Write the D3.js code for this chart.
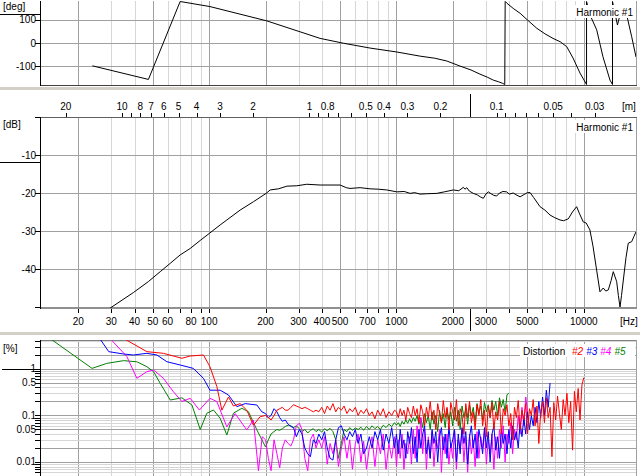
<!DOCTYPE html>
<html><head><meta charset="utf-8">
<script src="https://cdn.jsdelivr.net/npm/d3@7"></script>
<style>
body{margin:0;background:#fff;}
svg{display:block;}
text{font-family:"Liberation Sans",Arial,sans-serif;font-size:10px;fill:#000;}
</style>
</head><body><svg id="c" width="640" height="476"></svg>
<script>
// ---------------- DATA ----------------
const phaseFreq = [23.8,47.4,70,101,203,391,521,723,1004,1337,1600,1855,2183,2500,2791,3050,3289,3500,3690,3785,3805,3880,4200,4570,5000,5610,6200,6850,7500,8110,8760,9540,10344,10344,10790,11720,12660,13800,14234,14234,15130,15410,15800,16190,16800,18020,19010];
const phaseDeg  = [-99,-158,180,158,96,20,-1,-22,-39,-57,-66,-78,-100,-117,-135,-148,-161,-168,-175,-180,180,173,150,129,100,64,40,20,5,-16,-65,-130,-180,180,122,57,-60,-161,-180,180,78,104,135,160,135,27,-61];

const magFreq = [29.6,39.4,47.4,54.8,62,70,79.2,89.5,100.4,114.5,124.3,146.3,172.3,201.4,211.6,234.6,260,293.8,332,391,500,540,565,639,723,800,888,1004,1100,1182,1250,1337,1450,1641,1800,2013,2150,2277,2320,2373,2450,2573,2700,2800,2909,3000,3093,3200,3300,3426,3550,3700,3878,4000,4200,4400,4572,4800,5000,5167,5400,5841,6200,6603,7000,7464,7800,8265,8700,9156,9500,9935,10300,10780,11200,11710,12200,12700,13100,13520,14000,14370,14980,15300,15610,15900,16260,16800,17280,18020,18500,19010];
const magDb   = [-50.3,-46.2,-43.3,-40.7,-38.5,-36.3,-34.6,-32.5,-30.6,-28.4,-27.1,-24.5,-22.3,-20.1,-19.2,-18.9,-18.2,-18.1,-17.7,-17.9,-17.9,-18.6,-18.8,-18.6,-18.9,-19.0,-19.2,-19.7,-19.6,-20.1,-19.9,-20.3,-20.2,-20.1,-19.7,-19.2,-19.4,-18.5,-19.0,-18.6,-19.5,-20.1,-20.5,-21.0,-21.4,-20.3,-19.7,-20.2,-20.6,-20.8,-20.0,-19.6,-19.7,-20.3,-20.0,-20.6,-21.0,-20.4,-19.9,-19.9,-21.2,-23.6,-24.5,-25.8,-26.5,-27.1,-27.3,-26.8,-25.0,-23.6,-25.5,-27.6,-27.9,-29.7,-34,-40.3,-46,-45,-45.8,-45.5,-43,-40.7,-43.3,-47,-50,-47,-42.9,-37,-33.2,-32.8,-31.5,-30.2];

// distortion, low-frequency part as [Hz, %] pairs
const h2Low = [[33.5,5],[46.5,2.36],[57,2.17],[71.5,1.7],[79.2,1.9],[93.2,2.0],[101,1.12],[109.9,0.42],[116.9,0.13],[126.8,0.25],[134.8,0.16],[146.3,0.18],[158.8,0.13],[172.3,0.062],[187,0.094]];
const h3Low = [[25.6,5],[29.1,2.36],[34.9,2.1],[39.4,2.0],[46.5,2.17],[52.6,2.0],[59.5,1.43],[70,1.22],[82.3,1.03],[93.2,0.63],[101,0.35],[114.5,0.35],[126.8,0.276],[140.6,0.155],[155.7,0.18],[179.8,0.168],[191,0.12]];
const h4Low = [[28.9,5],[36.4,1.84],[41.1,0.63],[46.5,0.875],[50.5,0.95],[57,0.63],[64.4,0.325],[71.5,0.2],[79.2,0.234],[88.7,0.131],[101,0.234],[109.9,0.2],[124.3,0.057],[137.6,0.11],[158.8,0.049],[172.3,0.08],[183.3,0.0065],[192,0.035]];
const h5Low = [[13.3,5.4],[23.7,1.03],[28.4,1.32],[34.9,1.51],[41.1,1.43],[46.5,1.12],[50.5,0.875],[54.8,0.49],[62,0.215],[71.5,0.24],[80.9,0.168],[89.6,0.05],[97.2,0.112],[105.5,0.131],[114.5,0.087],[124.3,0.038],[134.8,0.112],[149.4,0.143],[162.2,0.12],[179.8,0.049]];

// distortion, high-frequency part on a shared frequency grid (200 Hz .. 10 kHz)
const distFreq = [200,207,214,222,230,238,246,255,264,273,
282,292,303,313,324,336,347,360,372,385,
399,413,427,442,458,474,490,508,525,544,
563,582,603,624,646,668,692,716,741,767,
794,821,850,880,911,943,976,
1000,1023,1047,1072,1096,1122,1148,1175,1202,1230,
1259,1288,1318,1349,1380,1413,1445,1479,1514,1549,
1585,1622,1660,1698,1738,1778,1820,1862,1905,1950,
1995,2042,2089,2138,2188,2239,2291,2344,2399,2455,
2512,2570,2630,2692,2754,2818,2884,2951,3020,3090,
3162,3236,3311,3388,3467,3548,3631,3715,3802,3890,
3981,4074,4169,4266,4365,4467,4571,4677,4786,4898,
5012,5129,5248,5370,5495,5623,5754,5888,6026,6166,
6310,6457,6607,6761,6918,7079,7244,7413,7586,7762,
7943,8128,8318,8511,8710,8913,9120,9333,9550,9772,
10000];
const h2Vals = [0.1,0.09,0.08,0.1,0.13,0.14,0.15,0.13,0.13,0.15,
0.17,0.16,0.15,0.14,0.15,0.14,0.13,0.12,0.13,0.12,
0.15,0.11,0.16,0.13,0.18,0.12,0.15,0.13,0.16,0.11,
0.14,0.12,0.15,0.1,0.13,0.11,0.14,0.1,0.12,0.085,
0.13,0.1,0.14,0.09,0.12,0.1,0.13,
0.12,0.09,0.14,0.1,0.13,0.08,0.15,0.11,0.09,0.16,
0.1,0.14,0.07,0.17,0.12,0.06,0.15,0.09,0.2,0.08,
0.13,0.05,0.18,0.11,0.07,0.21,0.09,0.15,0.05,0.19,
0.12,0.08,0.22,0.06,0.14,0.1,0.04,0.18,0.09,0.2,
0.07,0.12,0.05,0.17,0.1,0.22,0.06,0.13,0.035,0.16,
0.09,0.19,0.05,0.12,0.08,0.2,0.04,0.14,0.1,0.17,
0.06,0.11,0.03,0.15,0.09,0.21,0.05,0.13,0.08,0.18,
0.04,0.14,0.1,0.22,0.06,0.16,0.025,0.12,0.2,0.07,
0.24,0.09,0.15,0.013,0.19,0.08,0.26,0.11,0.05,0.22,
0.1,0.3,0.07,0.2,0.018,0.33,0.12,0.38,0.08,0.45,
0.65];
const h3Vals = [0.11,0.09,0.1,0.14,0.12,0.09,0.075,0.08,0.065,0.058,
0.055,0.035,0.05,0.04,0.02,0.015,0.013,0.03,0.025,0.04,
0.03,0.045,0.02,0.012,0.011,0.03,0.055,0.06,0.04,0.03,
0.045,0.035,0.05,0.025,0.04,0.015,0.02,0.035,0.02,0.045,
0.03,0.05,0.018,0.04,0.025,0.055,0.02,
0.04,0.015,0.05,0.02,0.03,0.012,0.045,0.025,0.055,0.015,
0.035,0.01,0.05,0.02,0.04,0.06,0.015,0.03,0.012,0.05,
0.025,0.045,0.01,0.035,0.055,0.018,0.04,0.012,0.06,0.02,
0.03,0.05,0.01,0.04,0.015,0.055,0.025,0.045,0.009,0.035,
0.06,0.02,0.04,0.012,0.05,0.03,0.015,0.055,0.02,0.045,
0.01,0.04,0.06,0.018,0.035,0.012,0.05,0.025,0.04,0.015,
0.05,0.02,0.06,0.03,0.045,0.02,0.07,0.035,0.09,0.04,
0.12,0.05,0.1,0.06,0.15,0.07,0.2,0.09,0.25,0.1,
0.35,0.15,0.5];
const h4Vals = [0.03,0.012,0.0065,0.03,0.015,0.0075,0.02,0.03,0.025,0.022,
0.03,0.06,0.068,0.05,0.012,0.0065,0.03,0.04,0.02,0.03,
0.02,0.035,0.009,0.025,0.015,0.03,0.008,0.02,0.035,0.012,
0.03,0.007,0.025,0.04,0.01,0.028,0.007,0.02,0.035,0.008,
0.03,0.015,0.04,0.007,0.025,0.012,0.035,
0.008,0.03,0.012,0.04,0.007,0.025,0.015,0.035,0.009,0.05,
0.012,0.06,0.02,0.09,0.015,0.05,0.007,0.035,0.012,0.045,
0.008,0.03,0.02,0.05,0.006,0.035,0.015,0.04,0.009,0.025,
0.012,0.045,0.007,0.03,0.02,0.05,0.01,0.035,0.006,0.04,
0.015,0.03,0.008,0.045,0.012,0.035,0.02,0.05,0.009,0.03,
0.015,0.04,0.007,0.035,0.012,0.05,0.02,0.06,0.01,0.04,
0.025,0.07,0.015,0.05,0.03,0.1,0.04,0.15,0.06,0.25,
0.12];
const h5Vals = [0.021,0.03,0.04,0.045,0.05,0.048,0.052,0.058,0.062,0.06,
0.055,0.06,0.052,0.045,0.05,0.042,0.048,0.052,0.045,0.05,
0.044,0.052,0.047,0.053,0.045,0.03,0.012,0.025,0.05,0.045,
0.055,0.048,0.054,0.05,0.056,0.048,0.058,0.05,0.06,0.052,
0.058,0.05,0.062,0.055,0.065,0.058,0.07,
0.062,0.07,0.058,0.075,0.065,0.08,0.068,0.085,0.07,0.09,
0.075,0.1,0.065,0.09,0.055,0.11,0.07,0.1,0.05,0.12,
0.065,0.1,0.045,0.13,0.07,0.11,0.055,0.14,0.08,0.12,
0.06,0.15,0.075,0.13,0.05,0.16,0.09,0.14,0.065,0.17,
0.1,0.15,0.07,0.18,0.11,0.16,0.08,0.19,0.12,0.17,
0.09,0.21,0.13,0.2,0.1,0.24,0.15,0.22,0.12,0.28,
0.3];

const seriesNames = ["#2","#3","#4","#5"];
const seriesColors = ["#ff0000","#0000ff","#ff00ff","#008000"];

// axis ticks / labels
const freqTicks = [20,30,40,50,60,70,80,90,100,200,300,400,500,600,700,800,900,1000,2000,3000,4000,5000,6000,7000,8000,9000,10000];
const freqLabels = [20,30,40,50,60,80,100,200,300,400,500,700,1000,2000,3000,5000,10000];
const wlTicks = [20,10,9,8,7,6,5,4,3,2,1,0.9,0.8,0.7,0.6,0.5,0.4,0.3,0.2,0.1,0.09,0.08,0.07,0.06,0.05,0.04,0.03];
const wlLabels = [20,10,8,7,6,5,4,3,2,1,0.8,0.5,0.4,0.3,0.2,0.1,0.05,0.03];
const phaseTicks = [100,0,-100];
const magTicks = [-10,-20,-30,-40];
const distGrid = [0.005,0.006,0.007,0.008,0.009,0.01,0.02,0.03,0.04,0.05,0.06,0.07,0.08,0.09,0.1,0.2,0.3,0.4,0.5,0.6,0.7,0.8,0.9,1,2,3,4];
const distLabels = [1,0.5,0.1,0.05,0.01];
const soundSpeed = 343;
const cursorFreq = 2470;
const refDeg = 126, refDb = -11.8, refPct = 1;

// ---------------- DRAW ----------------
const svg = d3.select("#c");
const L = 40, R = 636;
const x = d3.scaleLog().domain([12.5, 19000]).range([L, R]);
const yP = d3.scaleLinear().domain([-180, 180]).range([84.5, 1.5]);
const yM = d3.scaleLinear().domain([-50, 0]).range([307, 117]);
const yD = d3.scaleLog().domain([0.005, 4.2]).range([476, 340]);
const dark = "#a0a0a0", light = "#d6d6d6";
const mant = v => Math.round(v / Math.pow(10, Math.floor(Math.log10(v) + 1e-9)));
const isMajor = v => [1,2,5].includes(mant(v));

svg.append("rect").attr("width",640).attr("height",476).attr("fill","#fff");
svg.append("rect").attr("x",0).attr("y",87).attr("width",640).attr("height",3).attr("fill","#d4d0c8");
svg.append("rect").attr("x",0).attr("y",332).attr("width",640).attr("height",3).attr("fill","#d4d0c8");

const defs = svg.append("defs");
function clip(id, y0, y1){ defs.append("clipPath").attr("id",id).append("rect").attr("x",L).attr("y",y0).attr("width",R-L).attr("height",y1-y0); }
clip("cp",1,85); clip("cm",117,308); clip("cd",340,476);

function vgrid(g, y0, y1){
  g.selectAll(null).data(freqTicks).join("line")
    .attr("x1",d=>Math.round(x(d))+0.5).attr("x2",d=>Math.round(x(d))+0.5)
    .attr("y1",y0).attr("y2",y1)
    .attr("stroke",d=>isMajor(d)?dark:light).attr("stroke-width",1);
}
function hgrid(g, vals, ys, colorFn){
  g.selectAll(null).data(vals).join("line")
    .attr("x1",L).attr("x2",R)
    .attr("y1",d=>Math.round(ys(d))+0.5).attr("y2",d=>Math.round(ys(d))+0.5)
    .attr("stroke",colorFn).attr("stroke-width",1);
}
function leftTicks(g, vals, ys){
  g.selectAll(null).data(vals).join("line")
    .attr("x1",35).attr("x2",L).attr("y1",d=>Math.round(ys(d))+0.5).attr("y2",d=>Math.round(ys(d))+0.5)
    .attr("stroke","#000");
}
function leftLabels(g, vals, ys){
  g.selectAll(null).data(vals).join("text")
    .attr("x",36).attr("y",d=>ys(d)).attr("dy","0.35em").attr("text-anchor","end").text(d=>d);
}

// ---- Phase panel ----
const gp = svg.append("g");
vgrid(gp, 1, 85);
hgrid(gp, phaseTicks, yP, ()=>dark);
gp.append("line").attr("x1",R+0.5).attr("x2",R+0.5).attr("y1",1).attr("y2",85).attr("stroke",dark);
gp.append("line").attr("x1",L).attr("x2",R+1).attr("y1",85.5).attr("y2",85.5).attr("stroke","#404040");
gp.append("line").attr("x1",L+0.5).attr("x2",L+0.5).attr("y1",1).attr("y2",86).attr("stroke","#000");
leftTicks(gp, phaseTicks, yP);
leftLabels(gp, phaseTicks, yP);
gp.append("line").attr("x1",0).attr("x2",L).attr("y1",Math.round(yP(refDeg))+0.5).attr("y2",Math.round(yP(refDeg))+0.5).attr("stroke","#000");
gp.append("text").attr("x",3).attr("y",10).text("[deg]");
const phaseData = phaseFreq.map((f,i)=>[f,phaseDeg[i]]);
gp.append("path").datum(phaseData).attr("clip-path","url(#cp)")
  .attr("d", d3.line().x(d=>x(d[0])).y(d=>yP(d[1])))
  .attr("fill","none").attr("stroke","#000").attr("stroke-width",1);

// ---- Magnitude panel ----
const gm = svg.append("g");
vgrid(gm, 117, 308);
hgrid(gm, magTicks, yM, ()=>dark);
gm.append("line").attr("x1",R+0.5).attr("x2",R+0.5).attr("y1",117).attr("y2",308).attr("stroke",dark);
gm.append("line").attr("x1",L).attr("x2",R+1).attr("y1",117.5).attr("y2",117.5).attr("stroke","#606060");
gm.selectAll(null).data(wlTicks).join("line")
  .attr("x1",d=>Math.round(x(soundSpeed/d))+0.5).attr("x2",d=>Math.round(x(soundSpeed/d))+0.5)
  .attr("y1",113).attr("y2",117).attr("stroke","#000");
gm.selectAll(null).data(wlLabels).join("text")
  .attr("x",d=>x(soundSpeed/d)).attr("y",110).attr("text-anchor","middle").text(d=>d);
gm.append("text").attr("x",622).attr("y",110).text("[m]");
gm.append("line").attr("x1",Math.round(x(cursorFreq))+0.5).attr("x2",Math.round(x(cursorFreq))+0.5).attr("y1",94).attr("y2",117).attr("stroke","#000");
gm.append("line").attr("x1",L).attr("x2",R+1).attr("y1",308).attr("y2",308).attr("stroke","#909090").attr("stroke-width",2);
gm.selectAll(null).data(freqTicks).join("line")
  .attr("x1",d=>Math.round(x(d))+0.5).attr("x2",d=>Math.round(x(d))+0.5)
  .attr("y1",309).attr("y2",313).attr("stroke","#000");
gm.selectAll(null).data(freqLabels).join("text")
  .attr("x",d=>x(d)).attr("y",325).attr("text-anchor","middle").text(d=>d);
gm.append("text").attr("x",620).attr("y",325).text("[Hz]");
gm.append("line").attr("x1",Math.round(x(cursorFreq))+0.5).attr("x2",Math.round(x(cursorFreq))+0.5).attr("y1",309).attr("y2",331).attr("stroke","#000");
gm.append("line").attr("x1",L+0.5).attr("x2",L+0.5).attr("y1",117).attr("y2",309).attr("stroke","#000");
leftTicks(gm, [0].concat(magTicks).concat([-50]), yM);
leftLabels(gm, magTicks, yM);
gm.append("line").attr("x1",0).attr("x2",L).attr("y1",Math.round(yM(refDb))+0.5).attr("y2",Math.round(yM(refDb))+0.5).attr("stroke","#000");
gm.append("text").attr("x",3).attr("y",128).text("[dB]");
const magData = magFreq.map((f,i)=>[f,magDb[i]]);
gm.append("path").datum(magData).attr("clip-path","url(#cm)")
  .attr("d", d3.line().x(d=>x(d[0])).y(d=>yM(d[1])))
  .attr("fill","none").attr("stroke","#000").attr("stroke-width",1);

// ---- Distortion panel ----
const gd = svg.append("g");
vgrid(gd, 340, 476);
hgrid(gd, distGrid, yD, d=>isMajor(d)?dark:light);
gd.append("line").attr("x1",L).attr("x2",R+1).attr("y1",340.5).attr("y2",340.5).attr("stroke","#808080");
gd.append("line").attr("x1",R+0.5).attr("x2",R+0.5).attr("y1",340).attr("y2",476).attr("stroke",dark);
gd.append("line").attr("x1",L+0.5).attr("x2",L+0.5).attr("y1",340).attr("y2",476).attr("stroke","#000");
leftTicks(gd, distGrid.filter(d=>d<=4), yD);
leftLabels(gd, distLabels, yD);
gd.append("line").attr("x1",2).attr("x2",L).attr("y1",Math.round(yD(refPct))+0.5).attr("y2",Math.round(yD(refPct))+0.5).attr("stroke","#000");
gd.append("text").attr("x",3).attr("y",352).text("[%]");
const lows = [h2Low,h3Low,h4Low,h5Low];
const highs = [h2Vals,h3Vals,h4Vals,h5Vals];
const series = lows.map((lo,k)=>lo.concat(highs[k].map((v,i)=>[distFreq[i],v])));
const dline = d3.line().x(d=>x(d[0])).y(d=>yD(d[1]));
[3,2,1,0].forEach(k=>{
  gd.append("path").datum(series[k]).attr("clip-path","url(#cd)")
    .attr("d", dline).attr("fill","none").attr("stroke",seriesColors[k]).attr("stroke-width",1);
});

// labels with white boxes
function box(x0,y0,w,h){ svg.append("rect").attr("x",x0).attr("y",y0).attr("width",w).attr("height",h).attr("fill","#fff"); }
box(575,5,60,13);
svg.append("text").attr("x",633).attr("y",16).attr("text-anchor","end").text("Harmonic #1");
box(575,120,60,13);
svg.append("text").attr("x",633).attr("y",131).attr("text-anchor","end").text("Harmonic #1");
box(520,344,115,13);
const lg = svg.append("text").attr("x",523).attr("y",355);
lg.append("tspan").text("Distortion ");
seriesNames.forEach((n,k)=>{
  lg.append("tspan").attr("dx",k===0?4:3).attr("fill",seriesColors[k]).attr("font-style","italic").text(n);
});
</script>
</body></html>
